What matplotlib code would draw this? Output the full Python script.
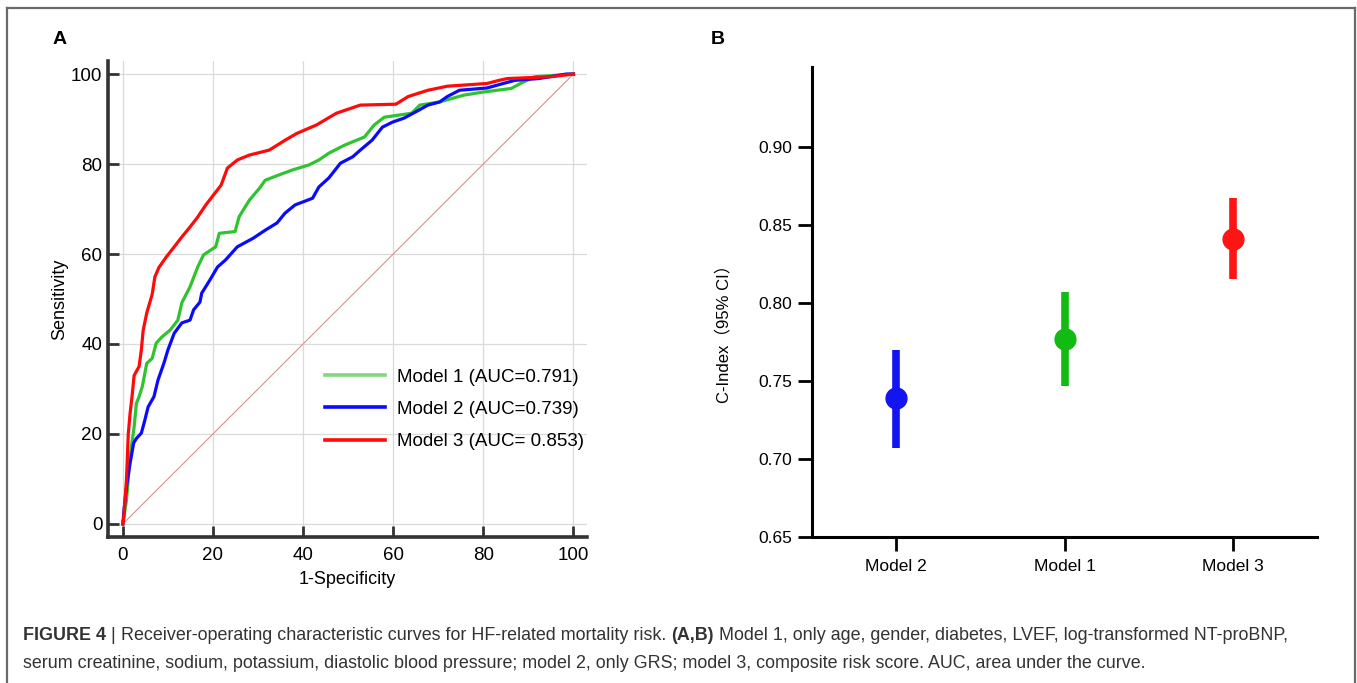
import matplotlib
matplotlib.use("Agg")
import matplotlib.pyplot as plt
from matplotlib.lines import Line2D

plt.rcParams['font.family'] = ['Liberation Sans', 'DejaVu Sans']

# ROC curves (1-specificity %, sensitivity %)
m1_fpr = [0, 0.8, 1.6, 2.5, 3.0, 3.6, 4.3, 5.3, 6.5, 7.4, 8.7, 10.5, 12.2, 13.1, 14.9, 16.6, 17.9,
          20.6, 21.4, 24.9, 25.8, 28.1, 30.3, 31.6, 34.7, 37.7, 41.3, 43.5, 45.7, 49.2, 53.6, 55.8,
          58.0, 64.1, 65.9, 70.3, 75.6, 80.0, 86.2, 88.8, 91.4, 100]
m1_tpr = [0, 5.3, 15.0, 21.6, 26.8, 28.3, 30.5, 35.7, 36.8, 40.2, 41.6, 43.1, 45.3, 49.2, 52.7, 57.1, 59.8,
          61.6, 64.6, 65.0, 68.3, 72.0, 74.6, 76.4, 77.6, 78.7, 79.8, 80.9, 82.4, 84.2, 86.0, 88.7,
          90.4, 91.3, 93.1, 93.8, 95.3, 96.0, 96.8, 98.2, 99.4, 100]

m2_fpr = [0, 0.3, 0.9, 1.6, 2.4, 3.0, 4.1, 4.7, 5.6, 6.9, 7.8, 9.1, 10.0, 11.4, 13.1, 14.9, 15.7,
          17.1, 17.5, 19.3, 21.0, 22.8, 25.4, 28.9, 31.6, 34.2, 36.0, 38.2, 42.1, 43.5, 45.7, 48.3,
          51.0, 52.7, 55.3, 57.6, 59.8, 62.4, 65.0, 67.7, 70.3, 72.0, 74.7, 80.8, 84.4, 87.0, 92.3,
          98.4, 100]
m2_tpr = [0, 3.6, 9.0, 13.5, 18.0, 19.0, 20.2, 22.4, 26.0, 28.3, 32.0, 35.7, 38.7, 42.4, 44.7, 45.3, 47.6,
          49.3, 51.3, 54.2, 57.1, 58.7, 61.6, 63.5, 65.3, 66.9, 69.1, 70.9, 72.4, 74.9, 76.9, 80.2,
          81.6, 83.1, 85.3, 88.2, 89.3, 90.2, 91.6, 93.1, 93.8, 95.0, 96.4, 96.9, 97.9, 98.6, 99.0,
          100, 100]

m3_fpr = [0, 0.2, 0.8, 1.2, 1.6, 2.0, 2.5, 3.6, 4.1, 4.5, 5.3, 6.5, 7.1, 8.0, 9.6, 11.4, 13.1,
          14.9, 16.6, 18.4, 20.1, 21.8, 23.2, 25.4, 28.1, 32.5, 36.0, 38.6, 43.0, 47.4, 52.7, 60.6,
          63.3, 67.7, 72.0, 80.8, 83.5, 85.3, 94.9, 100]
m3_tpr = [0, 1.5, 9.8, 20.0, 24.6, 28.0, 33.0, 35.0, 38.7, 43.0, 46.9, 51.0, 54.9, 57.0, 59.3, 61.6, 63.8,
          66.0, 68.2, 70.9, 73.1, 75.3, 79.1, 80.9, 82.0, 83.1, 85.3, 86.8, 88.7, 91.3, 93.1, 93.3,
          95.0, 96.4, 97.3, 97.9, 98.6, 99.0, 99.4, 100]

roc_labels = ["Model 1 (AUC=0.791)", "Model 2 (AUC=0.739)", "Model 3 (AUC= 0.853)"]

# C-index with 95% CI
models = ["Model 2", "Model 1", "Model 3"]
cindex = [0.739, 0.777, 0.841]
ci_low = [0.707, 0.747, 0.815]
ci_high = [0.770, 0.807, 0.867]
colors_b = ["#1414f0", "#12bb12", "#ff1414"]

W, H = 1357, 683
fig = plt.figure(figsize=(W / 100, H / 100), dpi=100)

# ---- panel A ----
axA = fig.add_axes([108 / W, 1 - 537 / H, 479 / W, 476 / H])
axA.plot([0, 100], [0, 100], color="#d99090", lw=0.8, zorder=2)
axA.plot(m1_fpr, m1_tpr, color="#2fc42f", lw=2.3, zorder=3)
axA.plot(m2_fpr, m2_tpr, color="#0a0aff", lw=2.3, zorder=3)
axA.plot(m3_fpr, m3_tpr, color="#ff0a0a", lw=2.3, zorder=4)
axA.set_xlim(-3.3, 103)
axA.set_ylim(-2.9, 102.9)
axA.set_xticks(range(0, 101, 20))
axA.set_yticks(range(0, 101, 20))
axA.grid(True, color="#dadada", lw=0.9)
axA.set_axisbelow(True)
for s in ["top", "right"]:
    axA.spines[s].set_visible(False)
for s in ["left", "bottom"]:
    axA.spines[s].set_linewidth(2.6)
    axA.spines[s].set_color("#333333")
axA.tick_params(direction="in", length=8, width=2, color="#333333", labelsize=13.5, pad=4)
axA.tick_params(axis="x", pad=7)
axA.set_xlabel("1-Specificity", fontsize=13, labelpad=5)
axA.set_ylabel("Sensitivity", fontsize=13, labelpad=2)

handles = [Line2D([], [], color="#80d880", lw=2.6),
           Line2D([], [], color="#0a0aff", lw=2.6),
           Line2D([], [], color="#ff0a0a", lw=2.6)]
axA.legend(handles, roc_labels, frameon=False, fontsize=13.5, loc="lower right",
           bbox_to_anchor=(1.03, 0.147), handlelength=3.2, handletextpad=0.65, labelspacing=0.8)

fig.text(60 / W, 1 - 40 / H, "A", fontsize=14, fontweight="bold", ha="center", va="center")

# ---- panel B ----
axB = fig.add_axes([812 / W, 1 - 537 / H, 505 / W, 470 / H])
x = range(len(models))
for i in x:
    axB.plot([i, i], [ci_low[i], ci_high[i]], color=colors_b[i], lw=5.5, solid_capstyle="butt")
    axB.plot(i, cindex[i], "o", color=colors_b[i], ms=15)
axB.set_xlim(-0.5, 2.5)
axB.set_ylim(0.65, 0.951)
axB.set_xticks(list(x))
axB.set_xticklabels(models)
axB.set_yticks([0.65, 0.70, 0.75, 0.80, 0.85, 0.90])
axB.set_yticklabels(["0.65", "0.70", "0.75", "0.80", "0.85", "0.90"])
for s in ["top", "right"]:
    axB.spines[s].set_visible(False)
for s in ["left", "bottom"]:
    axB.spines[s].set_linewidth(2.2)
axB.tick_params(direction="out", length=10, width=2, labelsize=12.5, pad=4)
axB.tick_params(axis="x", pad=6)
axB.set_ylabel("C-Index（95% CI）", fontsize=12,
               family=["Liberation Sans", "Noto Sans CJK SC"])
axB.yaxis.set_label_coords(-0.16, 0.44)

fig.text(718 / W, 1 - 40 / H, "B", fontsize=14, fontweight="bold", ha="center", va="center")

# ---- frame ----
frame_kw = dict(color="#6a6a6a", lw=1.6, transform=fig.transFigure)
fig.add_artist(Line2D([7 / W, 7 / W], [0, 1 - 8 / H], **frame_kw))
fig.add_artist(Line2D([7 / W, 1355 / W], [1 - 8 / H, 1 - 8 / H], **frame_kw))
fig.add_artist(Line2D([1355 / W, 1355 / W], [0, 1 - 8 / H], **frame_kw))

# ---- caption ----
cap_lines = [
    [("FIGURE 4", "bold"), (" | ", "normal"),
     ("Receiver-operating characteristic curves for HF-related mortality risk. ", "normal"),
     ("(A,B)", "bold"),
     (" Model 1, only age, gender, diabetes, LVEF, log-transformed NT-proBNP,", "normal")],
    [("serum creatinine, sodium, potassium, diastolic blood pressure; model 2, only GRS; "
      "model 3, composite risk score. AUC, area under the curve.", "normal")],
]
cap_y = [636, 664]
renderer = fig.canvas.get_renderer()
for line, yy in zip(cap_lines, cap_y):
    xpos = 23
    for txt, wt in line:
        t = fig.text(xpos / W, 1 - yy / H, txt, fontsize=12.9, fontweight=wt,
                     color="#333333", ha="left", va="center")
        bb = t.get_window_extent(renderer=renderer)
        xpos += bb.width

fig.savefig("out.png", dpi=100)
